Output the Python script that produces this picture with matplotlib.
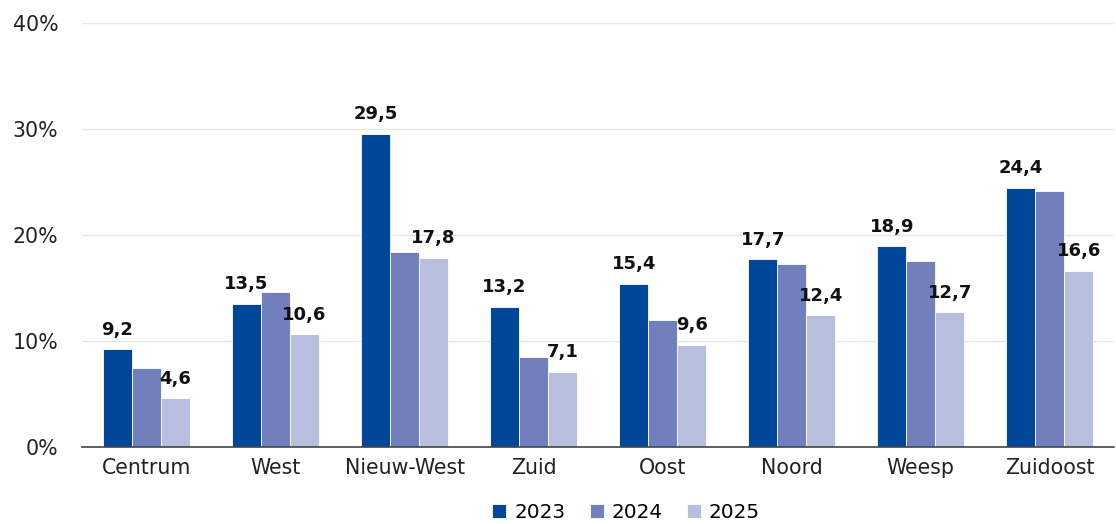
import matplotlib
matplotlib.use('Agg')
import matplotlib.pyplot as plt
import numpy as np

plt.rcParams['font.family'] = ['DejaVu Sans']

categories = ['Centrum', 'West', 'Nieuw-West', 'Zuid', 'Oost', 'Noord', 'Weesp', 'Zuidoost']
years = ['2023', '2024', '2025']
v2023 = [9.2, 13.5, 29.5, 13.2, 15.4, 17.7, 18.9, 24.4]
v2024 = [7.4, 14.6, 18.4, 8.5, 12.0, 17.2, 17.5, 24.1]
v2025 = [4.6, 10.6, 17.8, 7.1, 9.6, 12.4, 12.7, 16.6]
colors = ['#004699', '#717fbc', '#b8bedd']

fig = plt.figure(figsize=(11.16, 5.24), dpi=100)
ax = fig.add_axes([0.0735, 0.147, 0.925, 0.81])

x = np.arange(len(categories))
w = 0.225
series = [v2023, v2024, v2025]
bars = []
for i, vals in enumerate(series):
    b = ax.bar(x + (i - 1) * w, vals, w, color=colors[i], edgecolor='white',
               linewidth=0.6, label=years[i], zorder=3)
    bars.append(b)

# waardes boven 2023 en 2025
for idx in (0, 2):
    for rect, v in zip(bars[idx], series[idx]):
        ax.text(rect.get_x() + rect.get_width() / 2, v + 1.0, f"{v:.1f}".replace('.', ','),
                ha='center', va='bottom', fontsize=13, fontweight='bold', color='#111111')

ax.set_xlim(-0.5, len(categories) - 0.5)
ax.set_ylim(0, 40)
ax.set_yticks([0, 10, 20, 30, 40])
ax.set_yticklabels([f"{t}%" for t in [0, 10, 20, 30, 40]])
ax.set_xticks(x)
ax.set_xticklabels(categories)
ax.tick_params(axis='both', length=0, labelsize=14.8, colors='#222222')
ax.tick_params(axis='y', pad=17)
ax.tick_params(axis='x', pad=8)
ax.grid(axis='y', color='#e6e6e6', linewidth=1, zorder=0)
for s in ['top', 'right', 'left']:
    ax.spines[s].set_visible(False)
ax.spines['bottom'].set_color('#444444')
ax.spines['bottom'].set_linewidth(1.2)
ax.spines['bottom'].set_zorder(4)

ax.legend(loc='center', bbox_to_anchor=(0.527, -0.155), ncol=3, frameon=False,
          fontsize=14.4, handlelength=0.7, handleheight=0.7, handletextpad=0.4,
          columnspacing=1.2)

fig.savefig('out.png', dpi=100)
plt.close()
